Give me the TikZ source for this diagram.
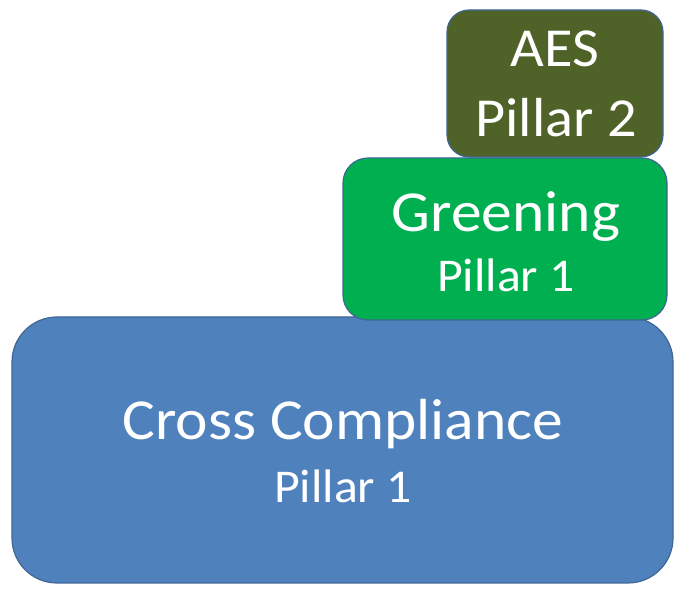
\documentclass[tikz,border=0pt]{standalone}
\usepackage{fontspec}
\setmainfont{Carlito}
\definecolor{aesfill}{HTML}{4F6228}
\definecolor{greenfill}{HTML}{00B050}
\definecolor{bluefill}{HTML}{4F81BD}
\definecolor{edgeblue}{HTML}{3F6694}
\tikzset{
  box/.style={rectangle, draw=edgeblue, line width=1.2pt, inner sep=0pt},
  lbl/.style={anchor=base, text=white, inner sep=0pt, xscale=1.06, transform shape},
  big/.style={lbl, font=\fontsize{58}{60}\selectfont},
  mid/.style={lbl, font=\fontsize{55}{57}\selectfont},
  small/.style={lbl, font=\fontsize{47}{49}\selectfont}
}
\begin{document}
\begin{tikzpicture}[x=1pt,y=1pt]
\useasboundingbox (0,0) rectangle (674,591);
\node[box, fill=bluefill, rounded corners=45pt, minimum width=661pt, minimum height=266pt] (cc) at (342.5,141) {};
\node[box, fill=greenfill, rounded corners=25pt, minimum width=324pt, minimum height=162pt] (gr) at (505,352) {};
\node[box, fill=aesfill, rounded corners=22pt, minimum width=216pt, minimum height=147pt] (aes) at (555,507.5) {};
\node[mid] (aest) at (555,524) {AES};
\node[mid] (aesp) at (556,454) {Pillar 2};
\node[big] (grt) at (506,359) {Greening};
\node[small] (grp) at (506,299) {Pillar 1};
\node[big] (cct) at (343,151) {Cross Compliance};
\node[small] (ccp) at (343,88) {Pillar 1};
\end{tikzpicture}
\end{document}
